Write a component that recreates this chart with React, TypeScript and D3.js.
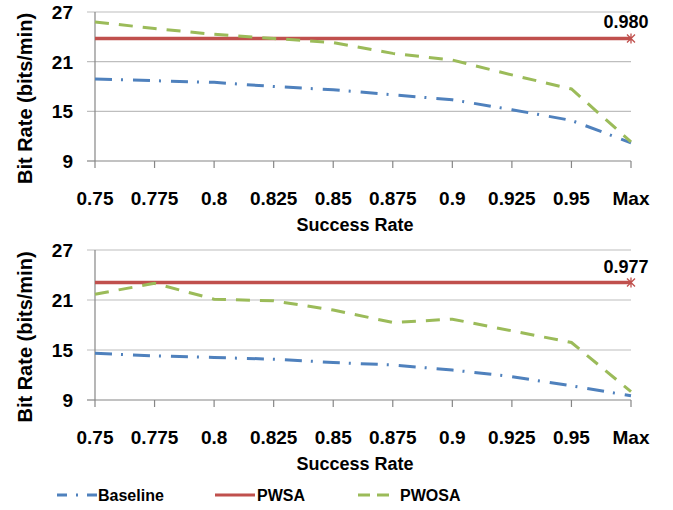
import React, { useEffect, useRef } from "react";
import * as d3 from "d3";

const categories = ["0.75", "0.775", "0.8", "0.825", "0.85", "0.875", "0.9", "0.925", "0.95", "Max"];
const yTicks = [9, 15, 21, 27];

// top panel
const baselineTop = [18.9, 18.7, 18.5, 18.0, 17.6, 17.0, 16.4, 15.2, 13.9, 11.2];
const pwsaTop = [23.8, 23.8, 23.8, 23.8, 23.8, 23.8, 23.8, 23.8, 23.8, 23.8];
const pwosaTop = [25.8, 25.0, 24.3, 23.8, 23.3, 22.0, 21.2, 19.4, 17.7, 11.3];
const pwsaTopLabel = "0.980";

// bottom panel
const baselineBottom = [14.6, 14.3, 14.1, 13.9, 13.5, 13.2, 12.6, 11.8, 10.7, 9.5];
const pwsaBottom = [23.1, 23.1, 23.1, 23.1, 23.1, 23.1, 23.1, 23.1, 23.1, 23.1];
const pwosaBottom = [21.7, 23.0, 21.1, 20.9, 19.8, 18.3, 18.7, 17.3, 15.9, 10.0];
const pwsaBottomLabel = "0.977";

const BLUE = "#4F81BD";
const RED = "#C0504D";
const GREEN = "#9BBB59";
const FONT = "'Liberation Sans', Arial, sans-serif";

const series = [
  { name: "Baseline", color: BLUE, dash: "17,9,2,10", legendDash: "10,9,2,9" },
  { name: "PWSA", color: RED, dash: null, legendDash: null },
  { name: "PWOSA", color: GREEN, dash: "14,10", legendDash: "12,7" },
];

function drawPanel(svg, top, bottom, values, label) {
  const x = d3.scalePoint().domain(categories).range([95, 631]);
  const y = d3.scaleLinear().domain([9, 27]).range([bottom, top]);
  const g = svg.append("g");

  // gridlines (extend left as y tick marks)
  g.selectAll(".grid")
    .data(yTicks.filter(d => d !== 9))
    .enter().append("line")
    .attr("x1", 87).attr("x2", 631)
    .attr("y1", d => y(d)).attr("y2", d => y(d))
    .style("stroke", "#BEBEBE").style("stroke-width", 1.2);

  g.append("line")
    .attr("x1", 87).attr("x2", 95)
    .attr("y1", y(9)).attr("y2", y(9))
    .style("stroke", "#868686").style("stroke-width", 1.2);

  // axis lines
  g.append("line")
    .attr("x1", 95).attr("x2", 95).attr("y1", y(27)).attr("y2", y(9))
    .style("stroke", "#868686").style("stroke-width", 1.2);
  g.append("line")
    .attr("x1", 95).attr("x2", 631).attr("y1", y(9)).attr("y2", y(9))
    .style("stroke", "#868686").style("stroke-width", 1.2);

  g.selectAll(".xtick")
    .data(categories)
    .enter().append("line")
    .attr("x1", d => x(d)).attr("x2", d => x(d))
    .attr("y1", y(9)).attr("y2", y(9) + 7)
    .style("stroke", "#868686").style("stroke-width", 1.2);

  g.selectAll(".ylab")
    .data(yTicks)
    .enter().append("text")
    .attr("x", 73).attr("y", d => y(d) + 7)
    .attr("text-anchor", "end")
    .style("font-family", FONT).style("font-weight", "bold").style("font-size", "19px")
    .text(d => d);

  g.selectAll(".xlab")
    .data(categories)
    .enter().append("text")
    .attr("x", d => x(d)).attr("y", y(9) + 44)
    .attr("text-anchor", "middle")
    .style("font-family", FONT).style("font-weight", "bold").style("font-size", "19px")
    .text(d => d);

  g.append("text")
    .attr("x", 355).attr("y", y(9) + 70)
    .attr("text-anchor", "middle")
    .style("font-family", FONT).style("font-weight", "bold").style("font-size", "18px")
    .text("Success Rate");

  g.append("text")
    .attr("transform", "translate(32," + ((y(27) + y(9)) / 2 + 12) + ") rotate(-90)")
    .attr("text-anchor", "middle")
    .style("font-family", FONT).style("font-weight", "bold").style("font-size", "20px")
    .text("Bit Rate (bits/min)");

  const line = d3.line()
    .x((d, i) => x(categories[i]))
    .y(d => y(d));

  series.forEach((s, k) => {
    const p = g.append("path")
      .datum(values[k])
      .attr("d", line)
      .style("fill", "none")
      .style("stroke", s.color)
      .style("stroke-width", k === 1 ? 3.5 : 3);
    if (s.dash) p.style("stroke-dasharray", s.dash);
  });

  // PWSA end marker + label
  const pw = values[1];
  const mx = x("Max"), my = y(pw[pw.length - 1]);
  g.append("path")
    .attr("d", `M${mx - 4},${my - 4}L${mx + 4},${my + 4}M${mx - 4},${my + 4}L${mx + 4},${my - 4}M${mx},${my - 5}L${mx},${my + 5}`)
    .style("stroke", RED).style("stroke-width", 1.3).style("fill", "none");
  g.append("text")
    .attr("x", mx - 5).attr("y", my - 10)
    .attr("text-anchor", "middle")
    .style("font-family", FONT).style("font-weight", "bold").style("font-size", "18px")
    .text(label);
}

export default function App() {
  const ref = useRef(null);

  useEffect(() => {
    const svg = d3.select(ref.current);
    svg.selectAll("*").remove();

    drawPanel(svg, 12, 161, [baselineTop, pwsaTop, pwosaTop], pwsaTopLabel);
    drawPanel(svg, 250, 400, [baselineBottom, pwsaBottom, pwosaBottom], pwsaBottomLabel);

    // legend
    const lx = [57, 215, 358];
    const lw = [40, 40, 31];
    const tx = [98, 257, 400];
    series.forEach((s, i) => {
      const l = svg.append("line")
        .attr("x1", lx[i]).attr("x2", lx[i] + lw[i])
        .attr("y1", 495).attr("y2", 495)
        .style("stroke", s.color).style("stroke-width", 3);
      if (s.legendDash) l.style("stroke-dasharray", s.legendDash);
      svg.append("text")
        .attr("x", tx[i]).attr("y", 501)
        .style("font-family", FONT).style("font-weight", "bold").style("font-size", "16px")
        .text(s.name);
    });
  }, []);

  return (
    <svg ref={ref} width={673} height={510}
      style={{ position: "absolute", left: 0, top: 0, background: "#fff" }} />
  );
}
